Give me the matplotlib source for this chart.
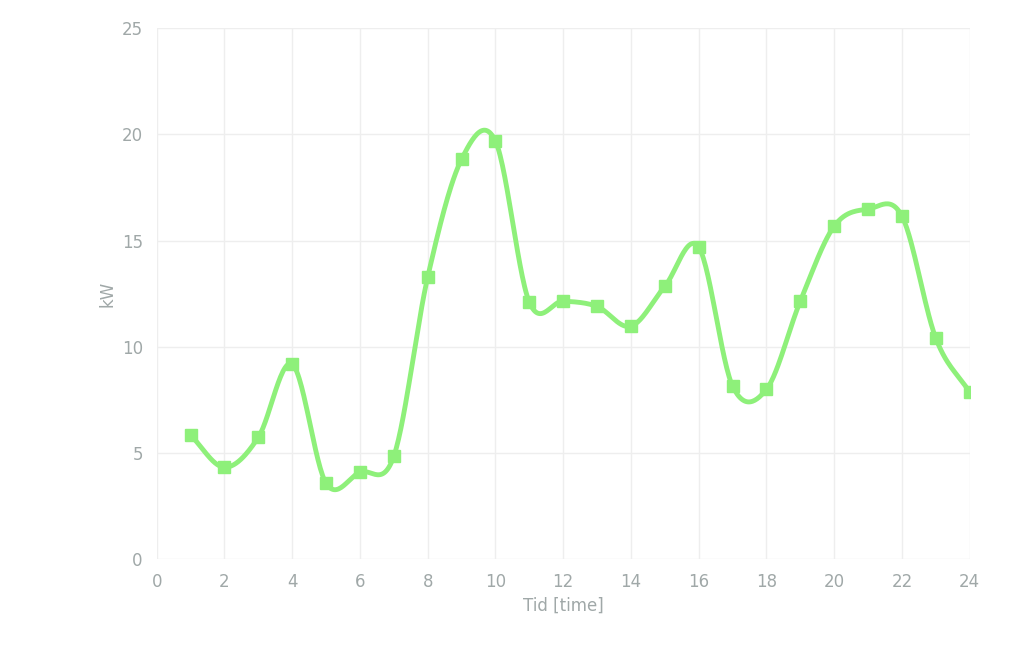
import matplotlib
matplotlib.use('Agg')
import matplotlib.pyplot as plt
import numpy as np

# Timer og effekt (kW)
hours = [1, 2, 3, 4, 5, 6, 7, 8, 9, 10, 11, 12, 13, 14, 15, 16, 17, 18, 19, 20, 21, 22, 23, 24]
kw = [5.84, 4.33, 5.74, 9.18, 3.58, 4.1, 4.85, 13.28, 18.83, 19.68, 12.1, 12.15,
      11.9, 10.97, 12.85, 14.69, 8.15, 8.0, 12.15, 15.68, 16.48, 16.15, 10.4, 7.86]


def smooth(x, y, n=30):
    """Catmull-Rom spline som Excel's glatte linje"""
    x = np.asarray(x, float)
    y = np.asarray(y, float)
    px = np.concatenate([[2 * x[0] - x[1]], x, [2 * x[-1] - x[-2]]])
    py = np.concatenate([[2 * y[0] - y[1]], y, [2 * y[-1] - y[-2]]])
    xs, ys = [], []
    t = np.linspace(0, 1, n)
    for i in range(1, len(px) - 2):
        for p, out in ((px, xs), (py, ys)):
            p0, p1, p2, p3 = p[i - 1], p[i], p[i + 1], p[i + 2]
            out.extend(0.5 * (2 * p1 + (-p0 + p2) * t
                              + (2 * p0 - 5 * p1 + 4 * p2 - p3) * t ** 2
                              + (-p0 + 3 * p1 - 3 * p2 + p3) * t ** 3))
    return xs, ys


color = '#8ef07a'
grey = '#a0a8a8'

fig = plt.figure(figsize=(10.24, 6.69), dpi=100)
ax = fig.add_axes([0.153, 0.164, 0.794, 0.794])

sx, sy = smooth(hours, kw)
ax.plot(sx, sy, color=color, linewidth=3.5, zorder=3)
ax.plot(hours, kw, 's', color=color, markersize=8, zorder=4)

ax.set_xlim(0, 24)
ax.set_ylim(0, 25)
ax.set_xticks(range(0, 25, 2))
ax.set_yticks(range(0, 26, 5))
ax.grid(True, color='#eeeeee', linewidth=1)
ax.set_axisbelow(True)
for s in ax.spines.values():
    s.set_visible(False)
ax.tick_params(length=0, colors=grey, labelsize=12, pad=10)
ax.set_xlabel('Tid [time]', color=grey, fontsize=12)
ax.set_ylabel('kW', color=grey, fontsize=12)

fig.savefig('out.png', dpi=100)
